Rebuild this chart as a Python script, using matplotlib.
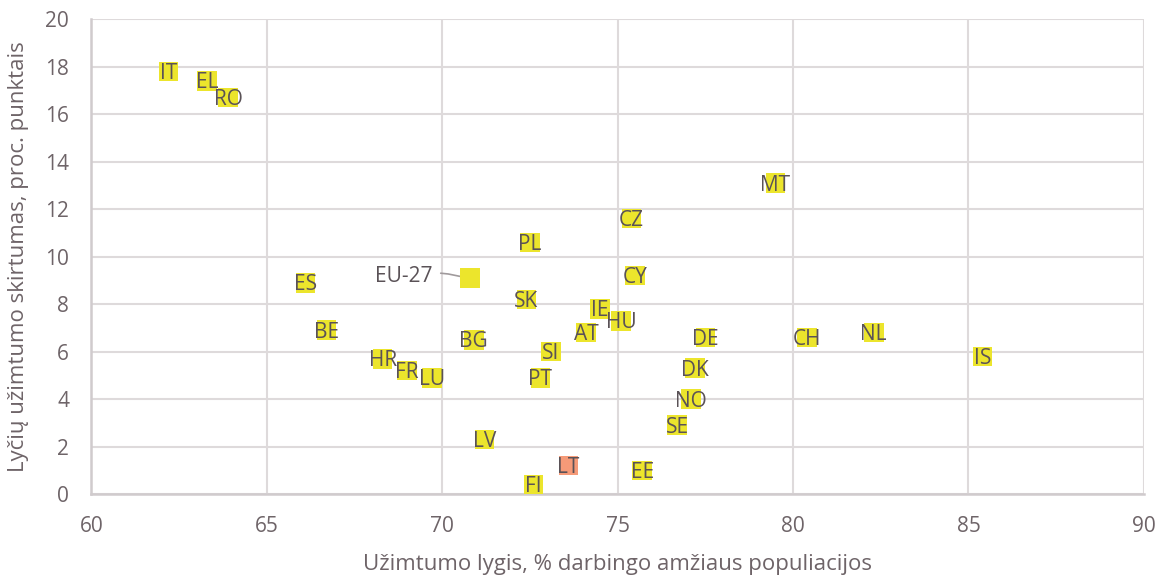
import matplotlib.pyplot as plt

plt.rcParams['font.family'] = ['Open Sans', 'DejaVu Sans']

countries = ['IT', 'EL', 'RO', 'MT', 'CZ', 'PL', 'EU-27', 'CY', 'ES', 'SK', 'IE', 'HU',
             'BE', 'AT', 'BG', 'DE', 'CH', 'NL', 'IS', 'SI', 'HR', 'DK', 'FR', 'LU',
             'PT', 'NO', 'SE', 'LV', 'LT', 'EE', 'FI']
employment = [62.2, 63.3, 63.9, 79.5, 75.4, 72.5, 70.8, 75.5, 66.1, 72.4, 74.5, 75.1,
              66.7, 74.1, 70.9, 77.5, 80.4, 82.3, 85.4, 73.1, 68.3, 77.2, 69.0, 69.7,
              72.8, 77.1, 76.7, 71.2, 73.6, 75.7, 72.6]
gap = [17.8, 17.4, 16.7, 13.1, 11.6, 10.6, 9.1, 9.2, 8.9, 8.2, 7.8, 7.3,
       6.9, 6.8, 6.5, 6.6, 6.6, 6.8, 5.8, 6.0, 5.7, 5.3, 5.2, 4.9,
       4.9, 4.0, 2.9, 2.3, 1.2, 1.0, 0.4]

yellow = '#ECE52C'
salmon = '#F59A78'
text_col = '#5A5257'
tick_col = '#6E6468'
grid_col = '#DEDADB'

fig, ax = plt.subplots(figsize=(11.72, 5.8), dpi=100)
fig.subplots_adjust(left=0.078, right=0.976, bottom=0.148, top=0.967)

colors = [salmon if c == 'LT' else yellow for c in countries]
ax.scatter(employment, gap, s=200, marker='s', c=colors, linewidths=0, zorder=3)

for c, x, y in zip(countries, employment, gap):
    if c == 'EU-27':
        ax.annotate(c, xy=(x, y - 0.05), xytext=(x - 1.9, y + 0.05),
                    ha='center', va='center', fontsize=15, color=text_col,
                    arrowprops=dict(arrowstyle='-', color='#A09A9C', lw=1.2,
                                    connectionstyle='arc3,rad=-0.15',
                                    shrinkA=4, shrinkB=0),
                    zorder=2)
    else:
        ax.annotate(c, xy=(x, y), xytext=(0, -1.5), textcoords='offset points',
                    ha='center', va='center', fontsize=15, color=text_col, zorder=4)

ax.set_xlim(60, 90)
ax.set_ylim(0, 20)
ax.set_xticks(range(60, 91, 5))
ax.set_yticks(range(0, 21, 2))
ax.grid(True, color=grid_col, linewidth=1.5, zorder=0)
ax.set_axisbelow(True)
for side in ['top', 'right']:
    ax.spines[side].set_visible(False)
for side in ['left', 'bottom']:
    ax.spines[side].set_color('#D0CBCD')
    ax.spines[side].set_linewidth(1.8)
ax.tick_params(length=0, labelsize=15, colors=tick_col)
ax.tick_params(axis='y', pad=16)
ax.tick_params(axis='x', pad=16)

ax.set_xlabel('Užimtumo lygis, % darbingo amžiaus populiacijos', fontsize=16,
              color=tick_col, labelpad=12)
ax.set_ylabel('Lyčių užimtumo skirtumas, proc. punktais', fontsize=16,
              color=tick_col, labelpad=12)

plt.savefig('out.png')
